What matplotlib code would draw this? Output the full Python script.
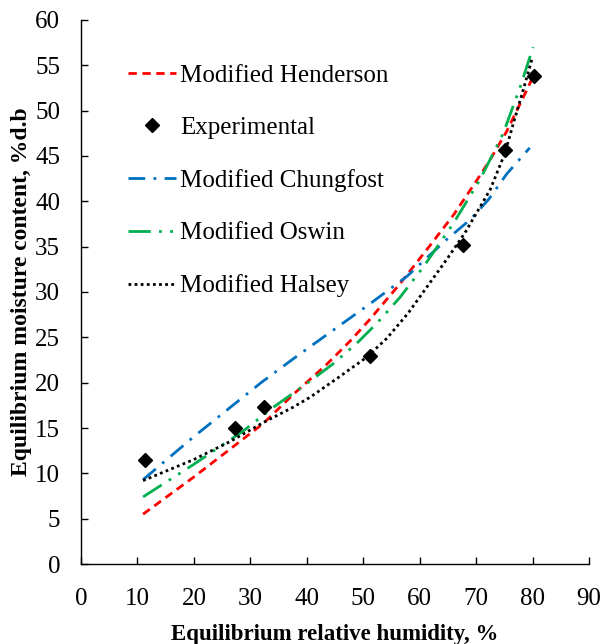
import matplotlib
matplotlib.use("Agg")
import matplotlib.pyplot as plt
from matplotlib.lines import Line2D

plt.rcParams["font.family"] = ["Liberation Serif", "DejaVu Serif"]

# experimental points
exp_rh = [11.3, 27.3, 32.4, 51.2, 67.7, 75.2, 80.3]
exp_emc = [11.5, 15.0, 17.3, 22.9, 35.2, 45.7, 53.8]

# model curves
hen_rh = [11.0, 20.0, 27.3, 32.3, 37.6, 43.5, 47.7, 51.2, 56.5, 61.8, 66.0, 70.0, 72.5, 75.4, 79.0, 80.2]
hen_emc = [5.5, 9.6, 13.1, 15.5, 18.7, 22.0, 24.6, 27.0, 30.9, 35.1, 38.5, 42.2, 44.6, 47.7, 52.3, 53.9]

chu_rh = [11.0, 19.9, 31.9, 38.2, 44.7, 51.2, 57.7, 64.8, 69.0, 72.2, 75.4, 79.5]
chu_emc = [9.3, 14.0, 20.0, 22.9, 25.8, 28.7, 31.7, 35.8, 38.0, 40.2, 43.0, 45.9]

osw_rh = [11.0, 20.0, 28.8, 34.1, 40.0, 44.5, 48.8, 52.5, 56.5, 60.7, 66.0, 70.7, 74.8, 77.8, 80.1]
osw_emc = [7.4, 11.0, 14.7, 17.3, 19.9, 22.0, 24.3, 26.6, 29.4, 32.8, 37.6, 42.4, 47.5, 52.6, 57.0]

hal_rh = [11.0, 19.9, 26.4, 32.3, 37.6, 40.6, 45.9, 50.6, 54.2, 58.0, 61.8, 64.8, 68.0, 72.5, 75.1, 76.6, 78.4, 79.9]
hal_emc = [9.2, 11.5, 13.5, 15.6, 17.3, 18.4, 20.7, 22.8, 24.9, 27.7, 31.0, 33.6, 36.5, 41.3, 45.3, 48.6, 52.4, 55.7]

RED, BLUE, GREEN = "#FF0000", "#0070C0", "#00B050"
ls_hen = (0, (3, 2))
ls_chu = (0, (6, 3, 1, 3))
ls_osw = (0, (8, 3, 1, 3, 1, 3))
ls_hal = (0, (1, 1.2))

fig = plt.figure(figsize=(6.03, 6.44), dpi=100)
ax = fig.add_axes([0.1343, 0.1242, 0.8425, 0.8448])

ax.plot(hen_rh, hen_emc, color=RED, lw=2, ls=ls_hen)
ax.plot(chu_rh, chu_emc, color=BLUE, lw=2, ls=ls_chu)
ax.plot(osw_rh, osw_emc, color=GREEN, lw=2, ls=ls_osw)
ax.plot(hal_rh, hal_emc, color="black", lw=2, ls=ls_hal)
ax.plot(exp_rh, exp_emc, ls="none", marker="D", ms=7, color="black")

ax.set_xlim(0, 90)
ax.set_ylim(0, 60)
ax.set_xticks(range(0, 91, 10))
ax.set_yticks(range(0, 61, 5))
ax.tick_params(direction="in", length=5, width=1, labelsize=18)
ax.tick_params(axis="x", pad=17)
ax.tick_params(axis="y", pad=15)
for s in ["top", "right"]:
    ax.spines[s].set_visible(False)
for s in ["left", "bottom"]:
    ax.spines[s].set_linewidth(1)

ax.set_xlabel("Equilibrium relative humidity, %", fontsize=16.5, fontweight="bold", labelpad=10)
ax.set_ylabel("Equilibrium moisture content, %d.b", fontsize=17, fontweight="bold", labelpad=2)

handles = [
    Line2D([], [], color=RED, lw=2, ls=ls_hen),
    Line2D([], [], ls="none", marker="D", ms=7, color="black"),
    Line2D([], [], color=BLUE, lw=2, ls=ls_chu),
    Line2D([], [], color=GREEN, lw=2, ls=ls_osw),
    Line2D([], [], color="black", lw=2, ls=ls_hal),
]
labels = ["Modified Henderson", "Experimental", "Modified Chungfost",
          "Modified Oswin", "Modified Halsey"]
ax.legend(handles, labels, loc="upper left", bbox_to_anchor=(128 / 603, 580 / 644),
          bbox_transform=fig.transFigure, frameon=False, fontsize=18,
          handlelength=1.9, handletextpad=0.2, labelspacing=1.2,
          borderpad=0, borderaxespad=0)

fig.savefig("out.png", dpi=100)
